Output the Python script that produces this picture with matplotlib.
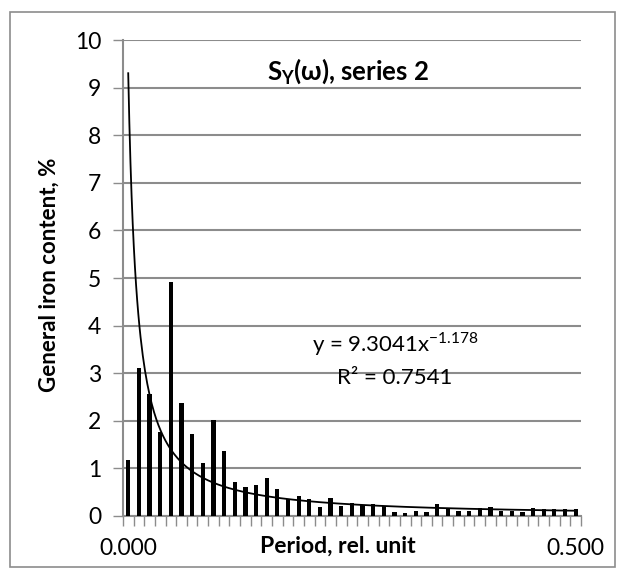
import matplotlib
matplotlib.use("Agg")
import matplotlib.pyplot as plt
import numpy as np
from matplotlib.patches import Rectangle

# spectrum values, one per category (43 periods)
values = [1.17, 3.11, 2.56, 1.76, 4.92, 2.37, 1.73, 1.12, 2.02, 1.37,
          0.72, 0.60, 0.65, 0.79, 0.56, 0.36, 0.41, 0.36, 0.19, 0.38,
          0.21, 0.28, 0.23, 0.26, 0.21, 0.08, 0.07, 0.10, 0.08, 0.26,
          0.14, 0.10, 0.11, 0.16, 0.18, 0.11, 0.10, 0.08, 0.16, 0.15,
          0.15, 0.15, 0.15]
tick_labels = ["0.000", "0.500"]
label_pos = [1, 43]
trend_a = 9.3041
trend_b = -1.178
r2 = 0.7541

plt.rcParams['font.family'] = ['Lato', 'DejaVu Sans']
plt.rcParams['mathtext.fontset'] = 'custom'
plt.rcParams['mathtext.rm'] = 'Lato'
plt.rcParams['mathtext.bf'] = 'Lato:bold'

fig = plt.figure(figsize=(6.27, 5.73), dpi=100)
ax = fig.add_axes([0.196, 0.0995, 0.7306, 0.8305])

cats = np.arange(1, len(values) + 1)
ax.bar(cats, values, width=0.4, color='black', zorder=3)

# power trendline
xt = np.linspace(1, len(values), 400)
ax.plot(xt, trend_a * xt ** trend_b, color='black', lw=1.3, zorder=4)

ax.set_xlim(0.5, len(values) + 0.5)
ax.set_ylim(0, 10)
ax.set_yticks(np.arange(0, 11, 1))
ax.yaxis.grid(True, color='#8c8c8c', lw=1.5, zorder=0)
ax.set_axisbelow(True)

ax.set_xticks(np.arange(0.5, len(values) + 1, 1))
ax.set_xticks(label_pos, minor=True)
ax.set_xticklabels([])
ax.set_xticklabels(tick_labels, minor=True)
ax.tick_params(axis='x', which='major', length=7, width=1, color='#8c8c8c', direction='out')
ax.tick_params(axis='x', which='minor', length=0, labelsize=16.5, pad=16)
ax.tick_params(axis='y', length=7, width=1, color='#8c8c8c', labelsize=16.5, pad=8.5)

for s in ['top', 'right']:
    ax.spines[s].set_visible(False)
for s in ['left', 'bottom']:
    ax.spines[s].set_color('#8c8c8c')
    ax.spines[s].set_linewidth(1.5)

fig.text(338 / 627, 1 - 546 / 573, "Period, rel. unit", fontsize=16.5,
         fontweight='bold', ha='center', va='center')
fig.text(49 / 627, 1 - 275 / 573, "General iron content, %", fontsize=16,
         fontweight='bold', ha='center', va='center', rotation=90)

ax.text(0.491, 0.935, r"$\mathbf{S_{Y}}$(ω), series 2", transform=ax.transAxes,
        ha='center', va='center', fontsize=18.5, fontweight='bold')
ax.text(0.594, 0.362, r"y = 9.3041x$^{\mathregular{" + str(trend_b) + "}}$",
        transform=ax.transAxes, ha='center', va='center', fontsize=16)
ax.text(0.594, 0.29, "R² = %.4f" % r2, transform=ax.transAxes,
        ha='center', va='center', fontsize=16)

fig.patches.append(Rectangle((10 / 627, 6 / 573), 605 / 627, 555 / 573,
                             transform=fig.transFigure, fill=False,
                             edgecolor='#8c8c8c', lw=1.2))

fig.savefig("out.png", dpi=100)
